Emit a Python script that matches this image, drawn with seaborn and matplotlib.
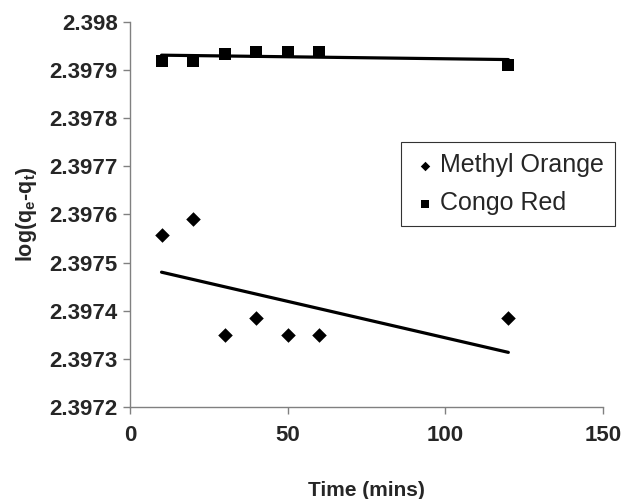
import numpy as np
import pandas as pd
import matplotlib
matplotlib.use("Agg")
import matplotlib.pyplot as plt
import seaborn as sns

# data
time_mins = [10, 20, 30, 40, 50, 60, 120]
methyl_orange = [2.397558, 2.397591, 2.397350, 2.397384, 2.397350, 2.397350, 2.397384]
congo_red = [2.397919, 2.397919, 2.397933, 2.397938, 2.397938, 2.397938, 2.397911]

x_ticks = [0, 50, 100, 150]
y_ticks = [2.3972, 2.3973, 2.3974, 2.3975, 2.3976, 2.3977, 2.3978, 2.3979, 2.398]
y_tick_labels = ["2.3972", "2.3973", "2.3974", "2.3975", "2.3976",
                 "2.3977", "2.3978", "2.3979", "2.398"]

df = pd.DataFrame({"time": time_mins, "mo": methyl_orange, "cr": congo_red})

sns.set_style("white")
plt.rcParams["font.family"] = ["Liberation Sans", "DejaVu Sans"]

fig = plt.figure(figsize=(6.32, 4.99), dpi=100)
ax = fig.add_axes([0.2057, 0.1844, 0.7483, 0.7715])

sns.regplot(data=df, x="time", y="mo", ax=ax, ci=None, marker="D",
            color="black", label="Methyl Orange",
            scatter_kws={"s": 55, "linewidths": 0, "alpha": 1},
            line_kws={"linewidth": 2.3, "solid_capstyle": "round"})
sns.regplot(data=df, x="time", y="cr", ax=ax, ci=None, marker="s",
            color="black", label="Congo Red",
            scatter_kws={"s": 68, "linewidths": 0, "alpha": 1},
            line_kws={"linewidth": 2.3, "solid_capstyle": "round"})

ax.set_xlim(0, 150)
ax.set_ylim(2.3972, 2.398)
ax.set_xticks(x_ticks)
ax.set_xticklabels([str(t) for t in x_ticks])
ax.set_yticks(y_ticks)
ax.set_yticklabels(y_tick_labels)

for lab in ax.get_xticklabels() + ax.get_yticklabels():
    lab.set_fontweight("bold")
    lab.set_fontsize(16)

ax.tick_params(axis="both", direction="out", length=5, width=1,
               color="#808080", pad=4, bottom=True, left=True)
ax.tick_params(axis="x", pad=8)

sns.despine(ax=ax)
for s in ["left", "bottom"]:
    ax.spines[s].set_color("#808080")
    ax.spines[s].set_linewidth(1)

ax.set_xlabel("Time (mins)", fontsize=15, fontweight="bold", labelpad=25)
ax.set_ylabel(r"log(q$_\mathregular{e}$-q$_\mathregular{t}$)", fontsize=15.5,
              fontweight="bold", labelpad=7)

handles = [c for c in ax.collections]
leg = ax.legend(handles, ["Methyl Orange", "Congo Red"], loc="upper left",
                bbox_to_anchor=(0.573, 0.688), borderaxespad=0, fontsize=18,
                frameon=True, fancybox=False, edgecolor="black",
                handletextpad=0.1, handlelength=1.0, borderpad=0.45,
                labelspacing=0.55, markerscale=0.65)
leg.get_frame().set_linewidth(0.8)

plt.savefig("out.png", dpi=100)
